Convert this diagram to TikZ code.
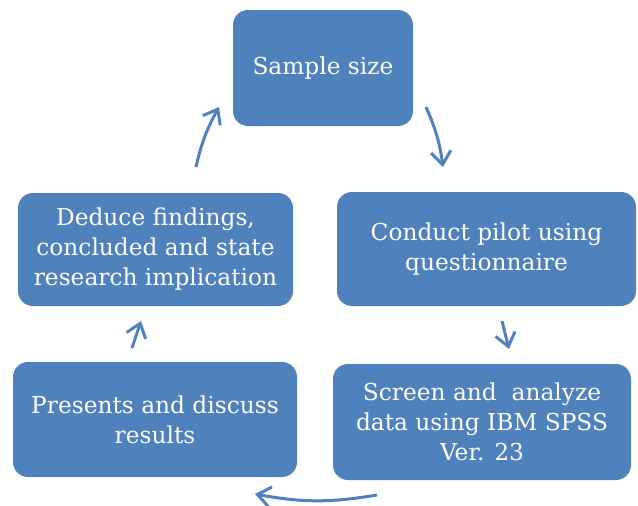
\documentclass[tikz,border=0pt]{standalone}
\usepackage{fontspec}
\setmainfont{DejaVu Serif}
\usetikzlibrary{arrows.meta}
\definecolor{boxblue}{HTML}{4F81BD}
\begin{document}
\begin{tikzpicture}[x=1pt,y=-1pt,
  stage/.style={draw=none,fill=boxblue,rounded corners=15pt,text=white,align=center,
    inner sep=0pt,font=\fontsize{23.3}{30}\selectfont},
  cyc/.style={draw=boxblue,line width=3pt,-{Straight Barb[length=13pt,width=20pt]}}]
\useasboundingbox (0,0) rectangle (638,506);
\node[stage,minimum width=180pt,minimum height=116pt] (s1) at (323,68) {Sample size};
\node[stage,minimum width=299pt,minimum height=114pt] (s2) at (486.5,249) {Conduct pilot using\\questionnaire};
\node[stage,minimum width=298pt,minimum height=116pt] (s3) at (482,422) {Screen and\ \ analyze\\data using IBM SPSS\\Ver. 23};
\node[stage,minimum width=284pt,minimum height=115pt] (s4) at (155,419.5) {Presents and discuss\\results};
\node[stage,minimum width=275pt,minimum height=113pt] (s5) at (155.5,249.5) {Deduce findings,\\concluded and state\\research implication};
\coordinate (a1s) at (426,107); \coordinate (a1e) at (443,167);
\coordinate (a2s) at (502,321); \coordinate (a2e) at (509,349);
\coordinate (a3s) at (377,495); \coordinate (a3e) at (255,494);
\coordinate (a4s) at (132,348); \coordinate (a4e) at (141,321);
\coordinate (a5s) at (196,167); \coordinate (a5e) at (219,107);
\draw[cyc] (a1s) to[bend left=8] (a1e);
\draw[cyc] (a2s) -- (a2e);
\draw[cyc] (a3s) to[bend left=10] (a3e);
\draw[cyc] (a4s) -- (a4e);
\draw[cyc] (a5s) to[bend left=8] (a5e);
\end{tikzpicture}
\end{document}
